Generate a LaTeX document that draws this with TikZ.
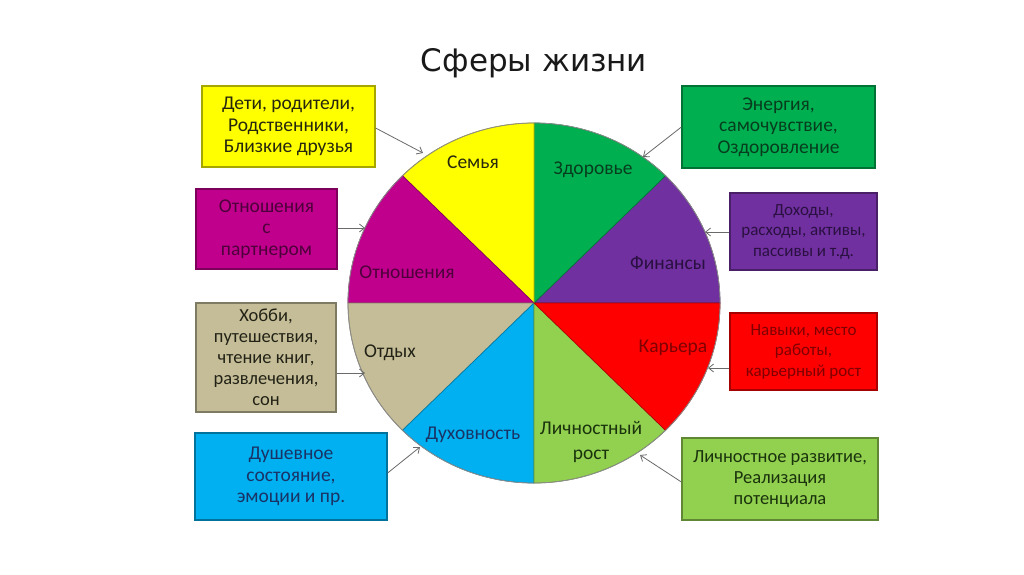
\documentclass[tikz,border=0pt]{standalone}
\usepackage{fontspec}
\setmainfont{Carlito}
\newfontfamily\titlefont{DejaVu Sans}
\usetikzlibrary{arrows.meta}
\definecolor{cYel}{HTML}{FFFF00}
\definecolor{cGrn}{HTML}{00B050}
\definecolor{cPur}{HTML}{7030A0}
\definecolor{cRed}{HTML}{FF0000}
\definecolor{cLgr}{HTML}{92D050}
\definecolor{cBlu}{HTML}{00B0F0}
\definecolor{cTan}{HTML}{C4BD97}
\definecolor{cMag}{HTML}{C0008C}
\definecolor{tYel}{HTML}{26260E}
\definecolor{tGrn}{HTML}{073D1E}
\definecolor{tPur}{HTML}{2A1040}
\definecolor{tRed}{HTML}{7E0000}
\definecolor{tLgr}{HTML}{1A330C}
\definecolor{tBlu}{HTML}{1A3366}
\definecolor{tTan}{HTML}{222216}
\definecolor{tMag}{HTML}{4E003C}
\definecolor{arr}{HTML}{6A6A6A}
\tikzset{
  infobox/.style={draw=#1!65!black, fill=#1, line width=1.2pt, align=center, inner sep=2pt},
  bigtxt/.style={font=\fontsize{19.5}{21.5}\selectfont},
  midtxt/.style={font=\fontsize{18.5}{21}\selectfont},
  smalltxt/.style={font=\fontsize{17}{20.5}\selectfont},
  sectlbl/.style={font=\fontsize{19.5}{22}\selectfont, align=center},
  pointer/.style={draw=arr, line width=0.8pt, -{Straight Barb[length=5pt,width=8pt]}},
  sector/.style={fill=#1, draw=#1!70!black, line width=0.7pt}
}
\begin{document}
\begin{tikzpicture}[x=1pt,y=-1pt]
\useasboundingbox[fill=white] (0,0) rectangle (1024,574);
% title
\node[font=\titlefont\fontsize{31}{36}\selectfont, text=black!90] (title) at (534,63) {Сферы жизни};
% pie
\begin{scope}[shift={(534,303)}, yscale=-1]
  \coordinate (ctr) at (0,0);
  \foreach \a/\c in {0/cPur,45/cGrn,90/cYel,135/cMag,180/cTan,225/cBlu,270/cLgr,315/cRed}{
    \path[sector=\c] (0,0) -- (\a:186 and 180) arc[start angle=\a, end angle=\a+45, x radius=186, y radius=180] -- cycle;
  }
  \draw[draw=black!45, line width=0.8pt] (0,0) ellipse[x radius=186, y radius=180];
\end{scope}
% sector labels
\node[sectlbl, text=tYel] (lSem) at (473,162) {Семья};
\node[sectlbl, text=tGrn] (lZdo) at (593,170) {Здоровье};
\node[sectlbl, text=tMag] (lOtn) at (407,272) {Отношения};
\node[sectlbl, text=tPur] (lFin) at (668,263) {Финансы};
\node[sectlbl, text=tTan] (lOtd) at (390,353) {Отдых};
\node[sectlbl, text=tRed] (lKar) at (673,348) {Карьера};
\node[sectlbl, text=tBlu] (lDuh) at (473,435) {Духовность};
\node[sectlbl, text=tLgr, font=\fontsize{19.5}{25}\selectfont] (lLic) at (591,442) {Личностный\\рост};
% boxes
\node[infobox=cYel, bigtxt, text=tYel, minimum width=173pt, minimum height=81pt] (bSem) at (288.5,126.5) {Дети, родители,\\Родственники,\\Близкие друзья};
\node[infobox=cGrn, bigtxt, text=tGrn, minimum width=193pt, minimum height=82pt] (bZdo) at (778.5,127) {Энергия,\\самочувствие,\\Оздоровление};
\node[infobox=cMag, bigtxt, text=tMag, minimum width=141pt, minimum height=80pt] (bOtn) at (266.5,229) {Отношения\\с\\партнером};
\node[infobox=cPur, smalltxt, text=tPur, minimum width=147pt, minimum height=77pt] (bFin) at (803.5,231.5) {Доходы,\\расходы, активы,\\пассивы и т.д.};
\node[infobox=cTan, midtxt, text=tTan, minimum width=140pt, minimum height=109pt] (bOtd) at (266,357.5) {Хобби,\\путешествия,\\чтение книг,\\развлечения,\\сон};
\node[infobox=cRed, smalltxt, text=tRed, minimum width=147pt, minimum height=77pt] (bKar) at (803.5,351.5) {Навыки, место\\работы,\\карьерный рост};
\node[infobox=cBlu, bigtxt, text=tBlu, minimum width=192pt, minimum height=87pt] (bDuh) at (291,476.5) {Душевное\\состояние,\\эмоции и пр.};
\node[infobox=cLgr, midtxt, text=tLgr, minimum width=196pt, minimum height=82pt] (bLic) at (780,479) {Личностное развитие,\\Реализация\\потенциала};
% arrow targets on the circle edge
\coordinate (pSem) at (423,153);
\coordinate (pZdo) at (643,157);
\coordinate (pOtn) at (365,228);
\coordinate (pFin) at (705,232);
\coordinate (pOtd) at (365,373);
\coordinate (pKar) at (708,368);
\coordinate (pDuh) at (420,447);
\coordinate (pLic) at (640,455);
% arrows
\draw[pointer] (bSem.east |- 0,128) -- (pSem);
\draw[pointer] (bZdo.west |- 0,127) -- (pZdo);
\draw[pointer] (bOtn.east |- 0,228) -- (pOtn);
\draw[pointer] (bFin.west |- 0,232) -- (pFin);
\draw[pointer] (bOtd.east |- 0,373) -- (pOtd);
\draw[pointer] (bKar.west |- 0,368) -- (pKar);
\draw[pointer] (bDuh.east |- 0,473) -- (pDuh);
\draw[pointer] (bLic.west |- 0,482) -- (pLic);
\end{tikzpicture}
\end{document}
